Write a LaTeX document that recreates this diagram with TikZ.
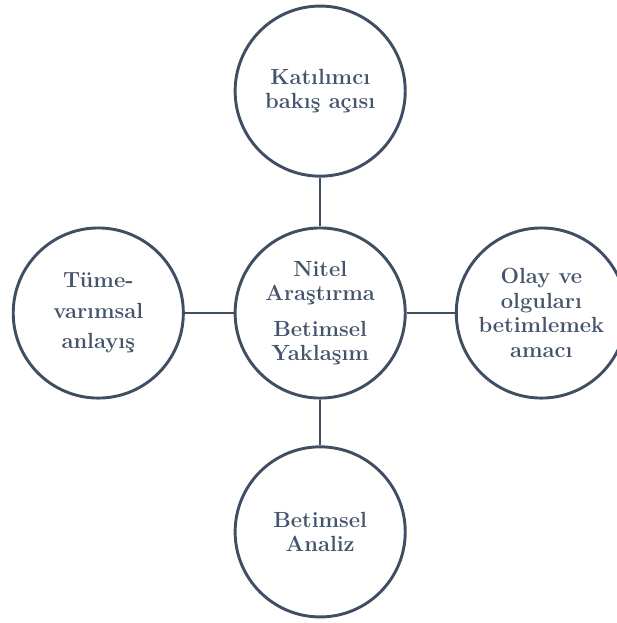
\documentclass[tikz,border=0pt]{standalone}
\usepackage{xcolor}
\definecolor{slate-line}{HTML}{3F4E62}
\definecolor{slate-text}{HTML}{44546A}

\begin{document}
\begin{tikzpicture}[every node/.style={font=\fontsize{16.5}{18.5}\selectfont\bfseries},
        bubble/.style={circle, draw=slate-line, line width=2.2pt, text=slate-text,
            minimum size=4.5cm, align=center, inner sep=0pt},
        link/.style={draw=slate-line, line width=1.5pt}]
      \useasboundingbox (-8.47,-8.20) rectangle (7.83,8.28);
      \node[bubble] (core) at (0,0)
            {Nitel\\Araştırma\\[8pt]Betimsel\\Yaklaşım};
      \node[bubble] (view) at (0,5.87) {Katılımcı\\bakış açısı};
      \node[bubble] (induct) at (-5.87,0) {Tüme-\\[4.5pt]varımsal\\[4.5pt]anlayış};
      \node[bubble] (aim) at (5.85,0) {Olay ve\\olguları\\betimlemek\\amacı};
      \node[bubble] (analysis) at (0,-5.79) {Betimsel\\Analiz};
      \draw[link] (core.north) -- (view.south);
      \draw[link] (core.west) -- (induct.east);
      \draw[link] (core.east) -- (aim.west);
      \draw[link] (core.south) -- (analysis.north);
    \end{tikzpicture}
\end{document}
